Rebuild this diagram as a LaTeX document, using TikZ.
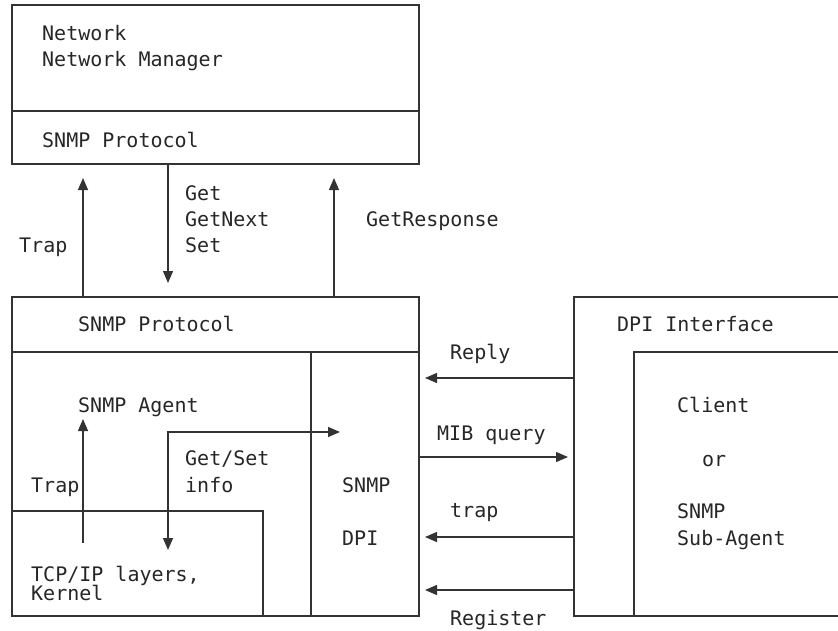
\documentclass[tikz,border=0pt]{standalone}
\usepackage{fontspec}
\setmonofont{DejaVu Sans Mono}
\usetikzlibrary{arrows.meta}
\begin{document}
\begin{tikzpicture}[x=1pt,y=-1pt,
  wire/.style={line width=1.3pt, draw=black!80},
  tip/.style={Triangle[length=12pt,width=10pt]},
  flow/.style={wire, -{Triangle[length=12pt,width=10pt]}},
  lbl/.style={anchor=base west, inner sep=0pt, text=black!85,
              font=\ttfamily\fontsize{20}{26}\selectfont}]
\useasboundingbox (0,0) rectangle (838,630);
\clip (0,0) rectangle (838,630);

% --- Network manager (top) ---
\draw[wire] (12,5) rectangle (419,164);
\draw[wire] (12,111) -- (419,111);
\node[lbl] (mgrA) at (42,40)  {Network};
\node[lbl] (mgrB) at (42,66)  {Network Manager};
\node[lbl] (mgrP) at (42,147) {SNMP Protocol};

% --- SNMP agent (bottom left) ---
\draw[wire] (12,297) rectangle (419,616);
\draw[wire] (12,352) -- (419,352);
\draw[wire] (311,352) -- (311,616);
\draw[wire] (12,511) -- (263,511) -- (263,616);
\node[lbl] (agP)   at (78,331)  {SNMP Protocol};
\node[lbl] (agA)   at (78,412)  {SNMP Agent};
\node[lbl] (agGS)  at (185,465) {Get/Set};
\node[lbl] (agInf) at (185,492) {info};
\node[lbl] (agTr)  at (31,492)  {Trap};
\node[lbl] (dpiA)  at (342,492) {SNMP};
\node[lbl] (dpiB)  at (342,545) {DPI};
\node[lbl] (tcpA)  at (31,581)  {TCP/IP layers,};
\node[lbl] (tcpB)  at (31,600)  {Kernel};

% --- DPI client (right, runs past the edge) ---
\draw[wire] (850,297) -- (574,297) -- (574,616) -- (850,616);
\draw[wire] (850,352) -- (634,352) -- (634,616);
\node[lbl] (dpiI)  at (617,331) {DPI Interface};
\node[lbl] (cliA)  at (677,412) {Client};
\node[lbl] (cliB)  at (702,466) {or};
\node[lbl] (cliC)  at (677,518) {SNMP};
\node[lbl] (cliD)  at (677,545) {Sub-Agent};

% --- manager <-> agent flows ---
\coordinate (trapS) at (83,297);  \coordinate (trapE) at (83,178);
\coordinate (getS)  at (168,164); \coordinate (getE)  at (168,283);
\coordinate (rspS)  at (334,297); \coordinate (rspE)  at (334,178);
\draw[flow] (trapS) -- (trapE);
\draw[flow] (getS) -- (getE);
\draw[flow] (rspS) -- (rspE);
\node[lbl] (lTrap) at (19,252)  {Trap};
\node[lbl] (lGet)  at (185,200) {Get};
\node[lbl] (lNext) at (185,226) {GetNext};
\node[lbl] (lSet)  at (185,252) {Set};
\node[lbl] (lRsp)  at (366,226) {GetResponse};

% --- flows inside the agent ---
\coordinate (itS) at (83,543);  \coordinate (itE) at (83,419);
\draw[flow] (itS) -- (itE);
\coordinate (gsR) at (340,432); \coordinate (gsC) at (168,432); \coordinate (gsD) at (168,550);
\draw[wire, {Triangle[length=12pt,width=10pt]}-{Triangle[length=12pt,width=10pt]}] (gsR) -- (gsC) -- (gsD);

% --- agent <-> DPI client flows ---
\coordinate (repS) at (574,378); \coordinate (repE) at (425,378);
\coordinate (mibS) at (419,457); \coordinate (mibE) at (568,457);
\coordinate (dtrS) at (574,537); \coordinate (dtrE) at (425,537);
\coordinate (regS) at (574,590); \coordinate (regE) at (425,590);
\draw[flow] (repS) -- (repE);
\draw[flow] (mibS) -- (mibE);
\draw[flow] (dtrS) -- (dtrE);
\draw[flow] (regS) -- (regE);
\node[lbl] (lRep) at (450,359) {Reply};
\node[lbl] (lMib) at (437,440) {MIB query};
\node[lbl] (lDtr) at (450,517) {trap};
\node[lbl] (lReg) at (450,625) {Register};
\end{tikzpicture}
\end{document}
